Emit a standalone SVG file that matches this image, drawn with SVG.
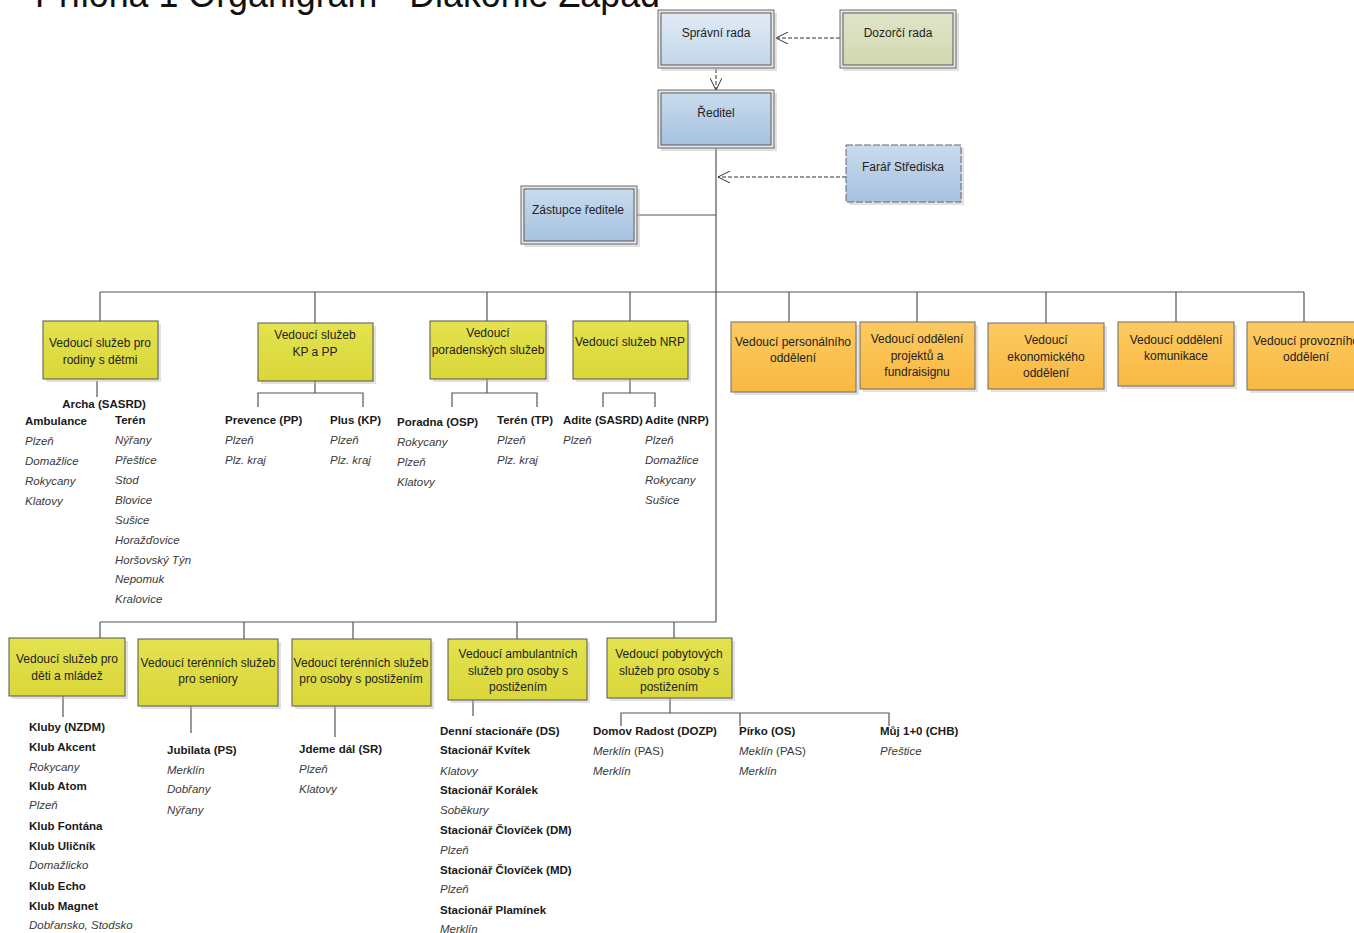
<svg xmlns="http://www.w3.org/2000/svg" width="1354" height="933" viewBox="0 0 1354 933">
<defs>
<linearGradient id="gSpr" x1="0" y1="0" x2="0" y2="1"><stop offset="0" stop-color="#e1ebf5"/><stop offset="1" stop-color="#c2d6ea"/></linearGradient>
<linearGradient id="gBlue" x1="0" y1="0" x2="0" y2="1"><stop offset="0" stop-color="#cadbed"/><stop offset="1" stop-color="#a5c2df"/></linearGradient>
<linearGradient id="gDoz" x1="0" y1="0" x2="0" y2="1"><stop offset="0" stop-color="#e0e4c8"/><stop offset="1" stop-color="#d2d8b0"/></linearGradient>
<linearGradient id="gY" x1="0" y1="0" x2="0" y2="1"><stop offset="0" stop-color="#e4e24e"/><stop offset="1" stop-color="#d9d73a"/></linearGradient>
<linearGradient id="gO" x1="0" y1="0" x2="0" y2="1"><stop offset="0" stop-color="#fdca60"/><stop offset="1" stop-color="#f9b843"/></linearGradient>
<marker id="arr" viewBox="0 0 12 12" refX="12" refY="6" markerWidth="12" markerHeight="12" markerUnits="userSpaceOnUse" orient="auto">
<path d="M0,0 L12,6 L0,12" fill="none" stroke="#333" stroke-width="1"/>
</marker>
<style>
.t{font-family:"Liberation Sans",Arial,sans-serif;font-size:12px;fill:#222}
.c{text-anchor:middle}
.l{font-family:"Liberation Sans",Arial,sans-serif;font-size:11.5px}
.b{font-weight:bold;fill:#1a1a1a}
.i{font-style:italic;fill:#3a3a3a}
.ln{stroke:#555;stroke-width:1.2;fill:none}
.dash{stroke:#333;stroke-width:1;stroke-dasharray:4,2;fill:none}
.sh{fill:#bdbdbd;opacity:0.45}
.ob{fill:#e6e6e6;stroke:#6a6a6a;stroke-width:1}
.ib{stroke:#5a5a5a;stroke-width:1}
.yb{fill:url(#gY);stroke:#555;stroke-width:1}
.orb{fill:url(#gO);stroke:#6a6a6a;stroke-width:1}
.title{font-family:"Liberation Sans",Arial,sans-serif;font-size:38px;fill:#111}
</style>
</defs>
<rect width="1354" height="933" fill="#ffffff"/>

<text class="title" x="35" y="7" textLength="625" lengthAdjust="spacingAndGlyphs">Příloha 1 Organigram - Diakonie Západ</text>

<g id="connectors">
<line class="dash" x1="840" y1="38" x2="776" y2="38" marker-end="url(#arr)"/>
<line class="dash" x1="716" y1="69" x2="716" y2="90" marker-end="url(#arr)"/>
<line class="dash" x1="846" y1="177" x2="718" y2="177" marker-end="url(#arr)"/>
<line class="ln" x1="716" y1="148" x2="716" y2="622"/>
<line class="ln" x1="628" y1="215" x2="716" y2="215"/>
<line class="ln" x1="100" y1="292" x2="1304" y2="292"/>
<path class="ln" d="M100,292V321 M315,292V323 M487,292V321 M630,292V321 M789,292V322 M917,292V322 M1046,292V323 M1176,292V322 M1304,292V322"/>
<path class="ln" d="M97,381V397"/>
<path class="ln" d="M315,381V393 M258,407V393H363V407"/>
<path class="ln" d="M487,379V393 M452,407V393H537V407"/>
<path class="ln" d="M630,379V393 M603,407V393H655V407"/>
<line class="ln" x1="100" y1="622" x2="716" y2="622"/>
<path class="ln" d="M100,622V638 M244,622V639 M353,622V639 M517,622V639 M674,622V638"/>
<path class="ln" d="M63,696V717"/>
<path class="ln" d="M191,706V733"/>
<path class="ln" d="M335,706V737"/>
<path class="ln" d="M473,700V716"/>
<path class="ln" d="M670,692V713 M621,726V713H889V726 M740,713V726"/>
</g>

<g id="spravni-rada">
<rect class="sh" x="661" y="13" width="116" height="58"/>
<rect class="ob" x="658" y="10" width="116" height="58"/>
<rect class="ib" x="661" y="13" width="110" height="52" fill="url(#gSpr)"/>
<text class="t c" x="716" y="37">Správní rada</text>
</g>

<g id="dozorci-rada">
<rect class="sh" x="843" y="13" width="116" height="58"/>
<rect class="ob" x="840" y="10" width="116" height="58"/>
<rect class="ib" x="843" y="13" width="110" height="52" fill="url(#gDoz)"/>
<text class="t c" x="898" y="37">Dozorčí rada</text>
</g>

<g id="reditel">
<rect class="sh" x="661" y="93" width="116" height="58"/>
<rect class="ob" x="658" y="90" width="116" height="58"/>
<rect class="ib" x="661" y="93" width="110" height="52" fill="url(#gBlue)"/>
<text class="t c" x="716" y="117">Ředitel</text>
</g>

<g id="farar-strediska">
<rect class="sh" x="849" y="148" width="115" height="57"/>
<rect x="846" y="145" width="115" height="57" fill="url(#gBlue)" stroke="#666" stroke-width="1" stroke-dasharray="7,2"/>
<text class="t c" x="903" y="171">Farář Střediska</text>
</g>

<g id="zastupce-reditele">
<rect class="sh" x="524" y="189" width="116" height="58"/>
<rect class="ob" x="521" y="186" width="116" height="58"/>
<rect class="ib" x="524" y="189" width="110" height="52" fill="url(#gBlue)"/>
<text class="t c" x="578" y="214">Zástupce ředitele</text>
</g>

<g id="vedouci-rodiny">
<rect class="sh" x="46" y="324" width="115" height="58"/>
<rect class="yb" x="43" y="321" width="115" height="58"/>
<text class="t c" x="100" y="347">Vedoucí služeb pro</text>
<text class="t c" x="100" y="364">rodiny s dětmi</text>
<text class="l b c" x="104" y="408">Archa (SASRD)</text>
<text class="l b" x="25" y="425">Ambulance</text>
<text class="l i" x="25" y="445">Plzeň</text>
<text class="l i" x="25" y="465">Domažlice</text>
<text class="l i" x="25" y="485">Rokycany</text>
<text class="l i" x="25" y="505">Klatovy</text>
<text class="l b" x="115" y="424">Terén</text>
<text class="l i" x="115" y="444">Nýřany</text>
<text class="l i" x="115" y="464">Přeštice</text>
<text class="l i" x="115" y="484">Stod</text>
<text class="l i" x="115" y="504">Blovice</text>
<text class="l i" x="115" y="524">Sušice</text>
<text class="l i" x="115" y="544">Horažďovice</text>
<text class="l i" x="115" y="564">Horšovský Týn</text>
<text class="l i" x="115" y="583">Nepomuk</text>
<text class="l i" x="115" y="603">Kralovice</text>
</g>

<g id="vedouci-kp-pp">
<rect class="sh" x="261" y="326" width="115" height="58"/>
<rect class="yb" x="258" y="323" width="115" height="58"/>
<text class="t c" x="315" y="339">Vedoucí služeb</text>
<text class="t c" x="315" y="356">KP a PP</text>
<text class="l b" x="225" y="424">Prevence (PP)</text>
<text class="l i" x="225" y="444">Plzeň</text>
<text class="l i" x="225" y="464">Plz. kraj</text>
<text class="l b" x="330" y="424">Plus (KP)</text>
<text class="l i" x="330" y="444">Plzeň</text>
<text class="l i" x="330" y="464">Plz. kraj</text>
</g>

<g id="vedouci-poradenskych">
<rect class="sh" x="433" y="324" width="116" height="58"/>
<rect class="yb" x="430" y="321" width="116" height="58"/>
<text class="t c" x="488" y="337">Vedoucí</text>
<text class="t c" x="488" y="354">poradenských služeb</text>
<text class="l b" x="397" y="426">Poradna (OSP)</text>
<text class="l i" x="397" y="446">Rokycany</text>
<text class="l i" x="397" y="466">Plzeň</text>
<text class="l i" x="397" y="486">Klatovy</text>
<text class="l b" x="497" y="424">Terén (TP)</text>
<text class="l i" x="497" y="444">Plzeň</text>
<text class="l i" x="497" y="464">Plz. kraj</text>
</g>

<g id="vedouci-nrp">
<rect class="sh" x="576" y="324" width="115" height="58"/>
<rect class="yb" x="573" y="321" width="115" height="58"/>
<text class="t c" x="630" y="346">Vedoucí služeb NRP</text>
<text class="l b" x="563" y="424">Adite (SASRD)</text>
<text class="l i" x="563" y="444">Plzeň</text>
<text class="l b" x="645" y="424">Adite (NRP)</text>
<text class="l i" x="645" y="444">Plzeň</text>
<text class="l i" x="645" y="464">Domažlice</text>
<text class="l i" x="645" y="484">Rokycany</text>
<text class="l i" x="645" y="504">Sušice</text>
</g>

<g id="vedouci-personalniho">
<rect class="sh" x="734" y="325" width="125" height="70"/>
<rect class="orb" x="731" y="322" width="125" height="70"/>
<text class="t c" x="793" y="346">Vedoucí personálního</text>
<text class="t c" x="793" y="362">oddělení</text>
</g>

<g id="vedouci-projektu">
<rect class="sh" x="863" y="325" width="115" height="67"/>
<rect class="orb" x="860" y="322" width="115" height="67"/>
<text class="t c" x="917" y="343">Vedoucí oddělení</text>
<text class="t c" x="917" y="360">projektů a</text>
<text class="t c" x="917" y="376">fundraisignu</text>
</g>

<g id="vedouci-ekonomickeho">
<rect class="sh" x="991" y="326" width="116" height="66"/>
<rect class="orb" x="988" y="323" width="116" height="66"/>
<text class="t c" x="1046" y="344">Vedoucí</text>
<text class="t c" x="1046" y="361">ekonomického</text>
<text class="t c" x="1046" y="377">oddělení</text>
</g>

<g id="vedouci-komunikace">
<rect class="sh" x="1121" y="325" width="116" height="64"/>
<rect class="orb" x="1118" y="322" width="116" height="64"/>
<text class="t c" x="1176" y="344">Vedoucí oddělení</text>
<text class="t c" x="1176" y="360">komunikace</text>
</g>

<g id="vedouci-provozniho">
<rect class="sh" x="1250" y="325" width="116" height="68"/>
<rect class="orb" x="1247" y="322" width="116" height="68"/>
<text class="t c" x="1306" y="345">Vedoucí provozního</text>
<text class="t c" x="1306" y="361">oddělení</text>
</g>

<g id="vedouci-deti-mladez">
<rect class="sh" x="12" y="641" width="116" height="58"/>
<rect class="yb" x="9" y="638" width="116" height="58"/>
<text class="t c" x="67" y="663">Vedoucí služeb pro</text>
<text class="t c" x="67" y="680">děti a mládež</text>
<text class="l b" x="29" y="731">Kluby (NZDM)</text>
<text class="l b" x="29" y="751">Klub Akcent</text>
<text class="l i" x="29" y="771">Rokycany</text>
<text class="l b" x="29" y="790">Klub Atom</text>
<text class="l i" x="29" y="809">Plzeň</text>
<text class="l b" x="29" y="830">Klub Fontána</text>
<text class="l b" x="29" y="850">Klub Uličník</text>
<text class="l i" x="29" y="869">Domažlicko</text>
<text class="l b" x="29" y="890">Klub Echo</text>
<text class="l b" x="29" y="910">Klub Magnet</text>
<text class="l i" x="29" y="929">Dobřansko, Stodsko</text>
</g>

<g id="vedouci-seniory">
<rect class="sh" x="141" y="642" width="140" height="67"/>
<rect class="yb" x="138" y="639" width="140" height="67"/>
<text class="t c" x="208" y="667">Vedoucí terénních služeb</text>
<text class="t c" x="208" y="683">pro seniory</text>
<text class="l b" x="167" y="754">Jubilata (PS)</text>
<text class="l i" x="167" y="774">Merklín</text>
<text class="l i" x="167" y="793">Dobřany</text>
<text class="l i" x="167" y="814">Nýřany</text>
</g>

<g id="vedouci-terennich-postizenim">
<rect class="sh" x="295" y="642" width="139" height="67"/>
<rect class="yb" x="292" y="639" width="139" height="67"/>
<text class="t c" x="361" y="667">Vedoucí terénních služeb</text>
<text class="t c" x="361" y="683">pro osoby s postižením</text>
<text class="l b" x="299" y="753">Jdeme dál (SR)</text>
<text class="l i" x="299" y="773">Plzeň</text>
<text class="l i" x="299" y="793">Klatovy</text>
</g>

<g id="vedouci-ambulantnich">
<rect class="sh" x="451" y="642" width="139" height="61"/>
<rect class="yb" x="448" y="639" width="139" height="61"/>
<text class="t c" x="518" y="658">Vedoucí ambulantních</text>
<text class="t c" x="518" y="675">služeb pro osoby s</text>
<text class="t c" x="518" y="691">postižením</text>
<text class="l b" x="440" y="735">Denní stacionáře (DS)</text>
<text class="l b" x="440" y="754">Stacionář Kvítek</text>
<text class="l i" x="440" y="775">Klatovy</text>
<text class="l b" x="440" y="794">Stacionář Korálek</text>
<text class="l i" x="440" y="814">Soběkury</text>
<text class="l b" x="440" y="834">Stacionář Človíček (DM)</text>
<text class="l i" x="440" y="854">Plzeň</text>
<text class="l b" x="440" y="874">Stacionář Človíček (MD)</text>
<text class="l i" x="440" y="893">Plzeň</text>
<text class="l b" x="440" y="914">Stacionář Plamínek</text>
<text class="l i" x="440" y="933">Merklín</text>
</g>

<g id="vedouci-pobytovych">
<rect class="sh" x="610" y="641" width="125" height="60"/>
<rect class="yb" x="607" y="638" width="125" height="60"/>
<text class="t c" x="669" y="658">Vedoucí pobytových</text>
<text class="t c" x="669" y="675">služeb pro osoby s</text>
<text class="t c" x="669" y="691">postižením</text>
<text class="l b" x="593" y="735">Domov Radost (DOZP)</text>
<text class="l" x="593" y="755" fill="#3a3a3a"><tspan font-style="italic">Merklín</tspan> (PAS)</text>
<text class="l i" x="593" y="775">Merklín</text>
<text class="l b" x="739" y="735">Pírko (OS)</text>
<text class="l" x="739" y="755" fill="#3a3a3a"><tspan font-style="italic">Meklín</tspan> (PAS)</text>
<text class="l i" x="739" y="775">Merklín</text>
<text class="l b" x="880" y="735">Můj 1+0 (CHB)</text>
<text class="l i" x="880" y="755">Přeštice</text>
</g>
</svg>
